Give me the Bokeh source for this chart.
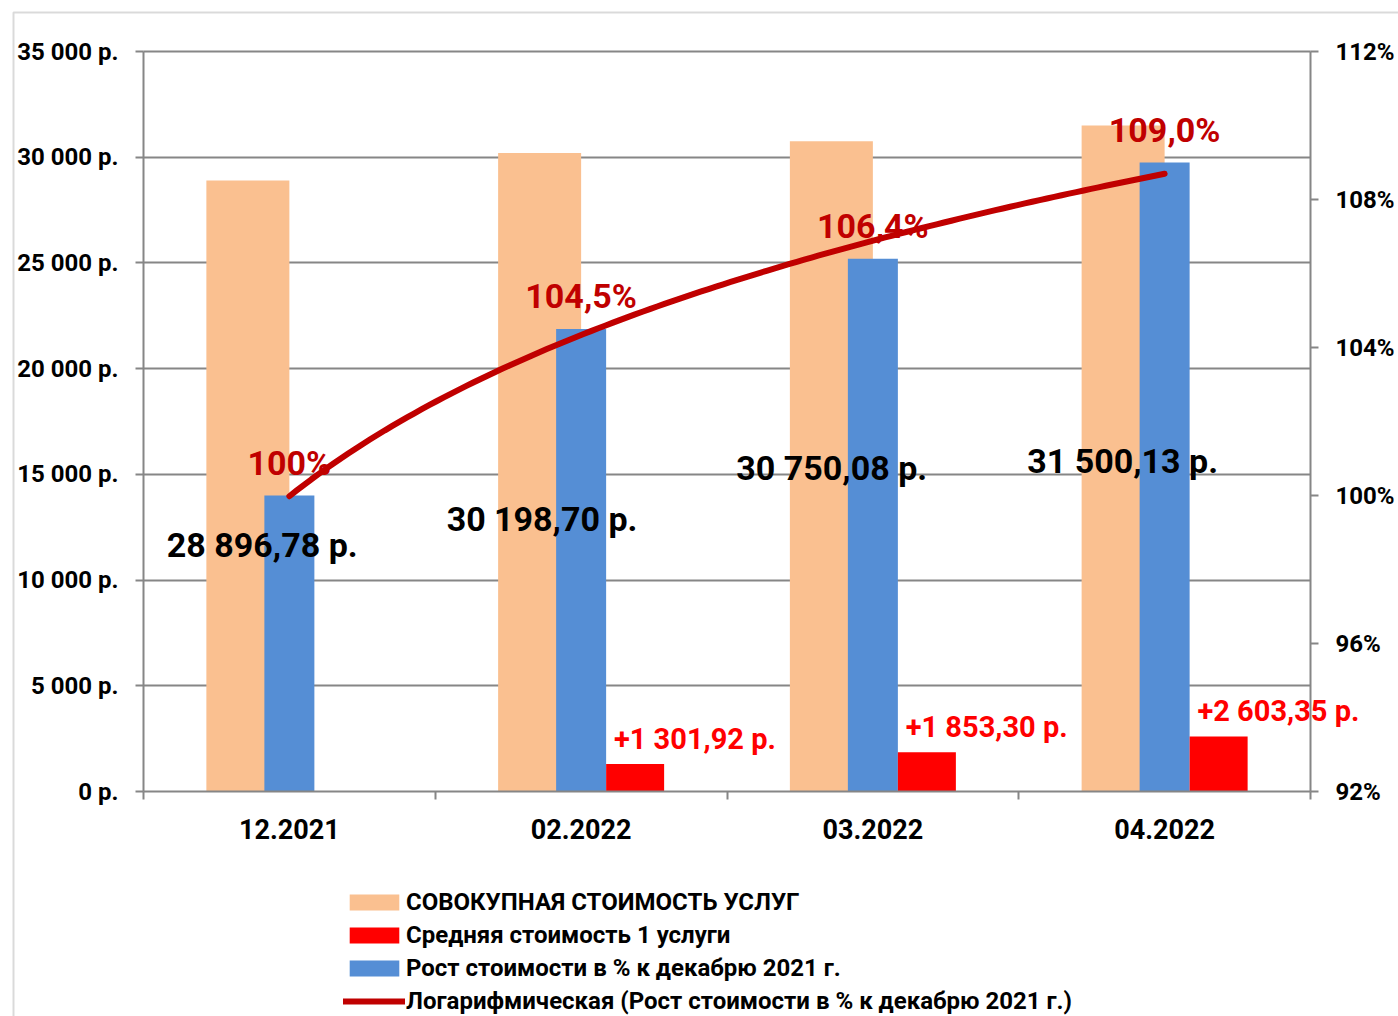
import numpy as np
from bokeh.plotting import figure
from bokeh.models import (Range1d, LinearAxis, FixedTicker, Legend, LegendItem,
                          BoxAnnotation, Grid)
from bokeh.core.properties import value
from bokeh.embed import file_html
from bokeh.resources import INLINE

# ---------------- data ----------------
categories = ["12.2021", "02.2022", "03.2022", "04.2022"]
total_cost = [28896.78, 30198.70, 30750.08, 31500.13]
avg_cost_increase = [0.0, 1301.92, 1853.30, 2603.35]
growth_pct = [100.0, 104.5, 106.4, 109.0]
cost_ticks = [0, 5000, 10000, 15000, 20000, 25000, 30000, 35000]
pct_ticks = [92, 96, 100, 104, 108, 112]
# hand-placed label anchors of the total-cost labels (as in the original)
total_label_y = [11650, 12870, 15280, 15650]
total_label_dx = [-0.093, -0.134, -0.141, -0.144]

# ---------------- layout (pixels) ----------------
W, H = 1398, 1016
PX_L, PX_R, PX_T, PX_B = 143, 1310, 51, 791
COST_MAX, PCT_MIN, PCT_MAX = 35000, 92, 112

FONT = "Roboto"
GRID = "#868686"
ORANGE = "#FAC090"
BLUE = "#558ED5"
RED = "#FF0000"
DARKRED = "#C00000"

ux = 4.0 / (PX_R - PX_L)            # category units per px
uy = COST_MAX / (PX_B - PX_T)       # roubles per px
up = (PCT_MAX - PCT_MIN) / (PX_B - PX_T)


def X(px):
    return -0.5 + (px - PX_L) * ux


def Y(py):
    return (PX_B - py) * uy


def rub(v):
    return f"{v:,.2f}".replace(",", " ").replace(".", ",") + " р."


def pct(v):
    return "100%" if v == 100 else f"{v:.1f}".replace(".", ",") + "%"


idx = np.arange(len(categories), dtype=float)

p = figure(width=W, height=H,
           x_range=Range1d(X(0), X(W)), y_range=Range1d(Y(H), Y(0)),
           output_backend="svg", toolbar_location=None,
           min_border_left=0, min_border_right=0, min_border_top=0, min_border_bottom=0)
p.outline_line_color = None
p.background_fill_color = "white"
p.extra_y_ranges = {"pct": Range1d(PCT_MIN - (H - PX_B) * up, PCT_MAX + PX_T * up)}

# left axis
ya = p.yaxis[0]
ya.fixed_location = -0.5
ya.bounds = (0, COST_MAX)
ya.ticker = FixedTicker(ticks=cost_ticks)
ya.major_label_overrides = {t: f"{t:,}".replace(",", " ") + " р." for t in cost_ticks}
ya.minor_tick_line_color = None
ya.major_tick_in = 0
ya.major_tick_out = 8
ya.major_label_standoff = 17

# bottom axis
xa = p.xaxis[0]
xa.fixed_location = 0
xa.bounds = (-0.5, 3.5)
xa.ticker = FixedTicker(ticks=list(idx), minor_ticks=list(np.arange(-0.5, 4.0, 1.0)))
xa.major_label_overrides = {float(i): c for i, c in enumerate(categories)}
xa.major_tick_out = 0
xa.major_tick_in = 0
xa.minor_tick_in = 0
xa.minor_tick_out = 8
xa.major_label_standoff = 19

# right axis
ra = LinearAxis(y_range_name="pct", ticker=FixedTicker(ticks=pct_ticks),
                major_label_overrides={t: f"{t}%" for t in pct_ticks},
                fixed_location=3.5, bounds=(PCT_MIN, PCT_MAX))
ra.minor_tick_line_color = None
ra.major_tick_in = 0
ra.major_tick_out = 8
ra.major_label_standoff = 17
p.add_layout(ra, "right")

for ax, size in [(ya, "24px"), (xa, "27px"), (ra, "24px")]:
    ax.axis_line_color = GRID
    ax.axis_line_width = 2
    ax.major_tick_line_color = GRID
    ax.major_tick_line_width = 2
    ax.minor_tick_line_width = 2
    ax.major_label_text_font = FONT
    ax.major_label_text_font_style = "bold"
    ax.major_label_text_font_size = size
    ax.major_label_text_color = "black"
xa.minor_tick_line_color = GRID

# grid lines (only across the plotting area)
p.xgrid.visible = False
if "cross_bounds" in Grid.properties():
    p.ygrid.ticker = FixedTicker(ticks=cost_ticks[1:])
    p.ygrid.cross_bounds = (-0.5, 3.5)
    p.ygrid.grid_line_color = GRID
    p.ygrid.grid_line_width = 2
else:
    p.ygrid.visible = False
    p.segment(x0=-0.5, x1=3.5, y0=cost_ticks[1:], y1=cost_ticks[1:],
              line_color=GRID, line_width=2)

# bars
r_total = p.vbar(x=idx - 0.14225, width=0.2845, top=total_cost, bottom=0,
                 fill_color=ORANGE, line_color=None)
r_growth = p.vbar(x=idx, width=0.1714, top=growth_pct, bottom=PCT_MIN, y_range_name="pct",
                  fill_color=BLUE, line_color=None)
r_avg = p.vbar(x=idx + 0.1851, width=0.1988, top=avg_cost_increase, bottom=0,
               fill_color=RED, line_color=None)

# logarithmic trend line fitted to the growth series
coef = np.polyfit(np.log(idx + 1), growth_pct, 1)
xs = np.linspace(1, len(categories), 120)
r_trend = p.line(xs - 1, coef[0] * np.log(xs) + coef[1], y_range_name="pct",
                 line_width=6, line_color=DARKRED, line_cap="round")

# labels
p.text(x=idx + np.array(total_label_dx), y=total_label_y, text=[rub(v) for v in total_cost],
       text_font=value(FONT), text_font_style="bold", text_font_size="34px",
       text_align="center", text_baseline="middle", text_color="black")
p.text(x=idx, y=growth_pct, y_range_name="pct", text=[pct(v) for v in growth_pct],
       y_offset=-33, text_font=value(FONT), text_font_style="bold", text_font_size="34px",
       text_align="center", text_baseline="middle", text_color=DARKRED)
p.text(x=idx[1:] + 0.39, y=avg_cost_increase[1:], text=["+" + rub(v) for v in avg_cost_increase[1:]],
       y_offset=-25, text_font=value(FONT), text_font_style="bold", text_font_size="29px",
       text_align="center", text_baseline="middle", text_color=RED)

legend = Legend(items=[
    LegendItem(label="СОВОКУПНАЯ СТОИМОСТЬ УСЛУГ", renderers=[r_total]),
    LegendItem(label="Средняя стоимость 1 услуги", renderers=[r_avg]),
    LegendItem(label="Рост стоимости в % к декабрю 2021 г.", renderers=[r_growth]),
    LegendItem(label="Логарифмическая (Рост стоимости в % к декабрю 2021 г.)", renderers=[r_trend]),
], location=(343, 1), orientation="vertical", glyph_width=62, glyph_height=20,
    label_height=20, label_standoff=1, spacing=5, padding=0, margin=0, border_line_color=None,
    background_fill_alpha=0, label_text_font=FONT, label_text_font_style="bold",
    label_text_font_size="24px", label_text_color="black")
p.add_layout(legend, "center")

# outer chart border
border = BoxAnnotation(left=X(13), top=Y(12), right=X(W + 30), bottom=Y(H + 30),
                       fill_color=None, line_color=GRID, line_width=2)
p.add_layout(border)

open("out.html", "w").write(file_html(p, INLINE))
